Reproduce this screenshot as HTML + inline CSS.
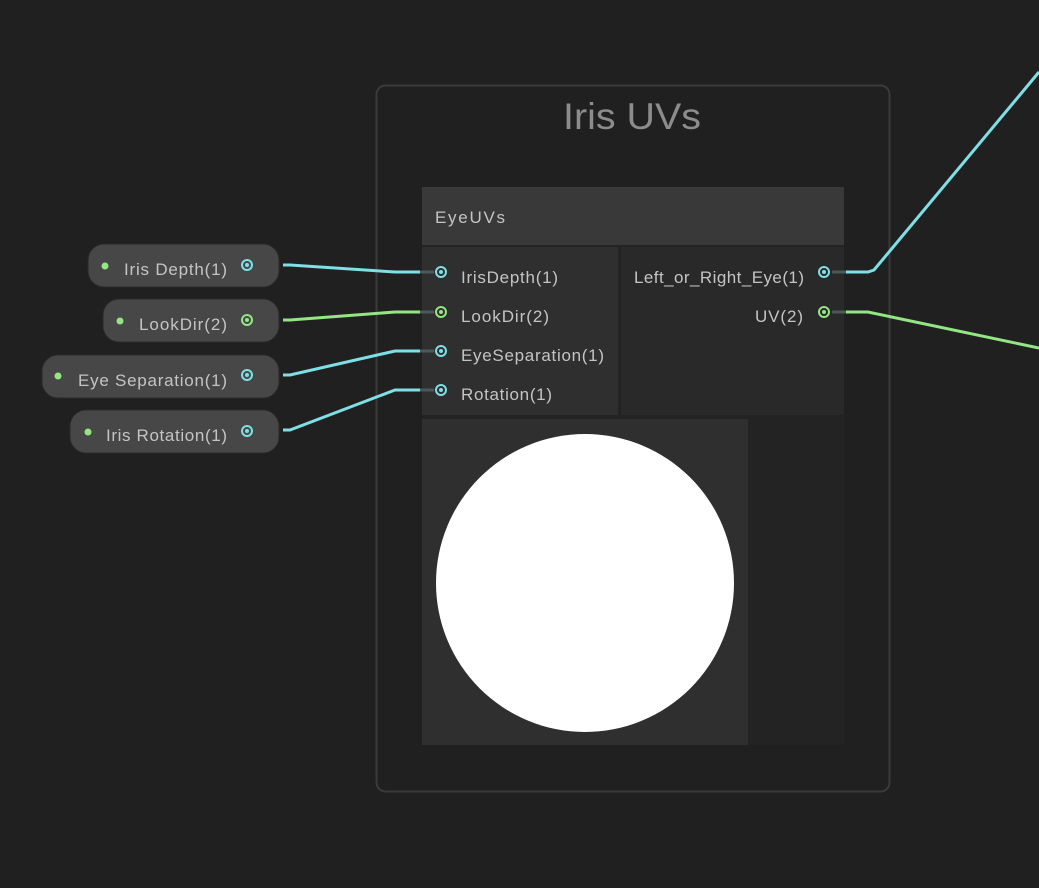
<!DOCTYPE html>
<html><head><style>
body{margin:0;background:#202020;width:1039px;height:888px;overflow:hidden;font-family:"Liberation Sans",sans-serif}
</style></head><body>
<svg width="1039" height="888" xmlns="http://www.w3.org/2000/svg" style="position:absolute;left:0;top:0">
<rect width="1039" height="888" fill="#202020"/>
<rect x="376.5" y="85.5" width="513" height="706" rx="9" fill="#202020" stroke="#3a3a3a" stroke-width="2"/>
<text x="563" y="129" font-size="37" fill="#8c8c8c" textLength="138" lengthAdjust="spacingAndGlyphs">Iris UVs</text>
<!-- node -->
<rect x="422" y="187" width="422" height="558" rx="4" fill="#232323"/>
<rect x="422" y="187" width="422" height="58" fill="#393939"/>
<text x="435" y="223" font-size="17" fill="#c4c4c4" textLength="70">EyeUVs</text>
<rect x="422" y="247" width="196" height="168" fill="#2f2f2f"/>
<rect x="621" y="247" width="223" height="168" fill="#292929"/>
<rect x="422" y="419" width="326" height="326" fill="#2f2f2f"/>
<circle cx="585" cy="583" r="149" fill="#fff"/>
<g font-size="17" fill="#c4c4c4">
<text x="461" y="283" textLength="97">IrisDepth(1)</text>
<text x="461" y="322" textLength="88">LookDir(2)</text>
<text x="461" y="361" textLength="143">EyeSeparation(1)</text>
<text x="461" y="400" textLength="91">Rotation(1)</text>
<text x="634" y="283" textLength="170">Left_or_Right_Eye(1)</text>
<text x="755" y="322" textLength="48">UV(2)</text>
</g>
<!-- wires -->
<g fill="none" stroke-width="3">
<path d="M283 265 L290 265 L395 272 L420 272" stroke="#7ee0e6"/>
<path d="M283 320 L290 320 L395 312 L420 312" stroke="#94e584"/>
<path d="M283 375 L290 375 L395 351 L420 351" stroke="#7ee0e6"/>
<path d="M283 430 L290 430 L395 390 L420 390" stroke="#7ee0e6"/>
<path d="M846 272 L868 272 L874 270 L1039 72" stroke="#7ee0e6"/>
<path d="M846 312 L868 312 L1039 348" stroke="#94e584"/>
</g>
<g stroke-width="3" fill="none">
<path d="M420 272 L434 272 M420 312 L434 312 M420 351 L434 351 M420 390 L434 390 M832 272 L846 272 M832 312 L846 312" stroke="#4a5a58"/>
</g>
<g fill="none" stroke-width="2">
<circle cx="441" cy="272" r="5" stroke="#7ee0e6"/><circle cx="441" cy="272" r="2" fill="#7ee0e6"/>
<circle cx="441" cy="312" r="5" stroke="#94e584"/><circle cx="441" cy="312" r="2" fill="#94e584"/>
<circle cx="441" cy="351" r="5" stroke="#7ee0e6"/><circle cx="441" cy="351" r="2" fill="#7ee0e6"/>
<circle cx="441" cy="390" r="5" stroke="#7ee0e6"/><circle cx="441" cy="390" r="2" fill="#7ee0e6"/>
<circle cx="824" cy="272" r="5" stroke="#7ee0e6"/><circle cx="824" cy="272" r="2" fill="#7ee0e6"/>
<circle cx="824" cy="312" r="5" stroke="#94e584"/><circle cx="824" cy="312" r="2" fill="#94e584"/>
</g>
<!-- pills -->
<g fill="#474747" stroke="#2a2a2a" stroke-width="1">
<rect x="88" y="244" width="191" height="43" rx="16"/>
<rect x="103" y="299" width="176" height="43" rx="16"/>
<rect x="42" y="355" width="237" height="43" rx="16"/>
<rect x="70" y="410" width="209" height="43" rx="16"/>
</g>
<g fill="#94e584">
<circle cx="105" cy="266" r="3.5"/><circle cx="120" cy="321" r="3.5"/><circle cx="58" cy="376" r="3.5"/><circle cx="88" cy="432" r="3.5"/>
</g>
<g font-size="17" fill="#c4c4c4">
<text x="124" y="275" textLength="103">Iris Depth(1)</text>
<text x="139" y="330" textLength="88">LookDir(2)</text>
<text x="78" y="386" textLength="149">Eye Separation(1)</text>
<text x="106" y="441" textLength="121">Iris Rotation(1)</text>
</g>
<g fill="none" stroke-width="2">
<circle cx="247" cy="265" r="5" stroke="#7ee0e6"/><circle cx="247" cy="265" r="2" fill="#7ee0e6"/>
<circle cx="247" cy="320" r="5" stroke="#94e584"/><circle cx="247" cy="320" r="2" fill="#94e584"/>
<circle cx="247" cy="375" r="5" stroke="#7ee0e6"/><circle cx="247" cy="375" r="2" fill="#7ee0e6"/>
<circle cx="247" cy="431" r="5" stroke="#7ee0e6"/><circle cx="247" cy="431" r="2" fill="#7ee0e6"/>
</g>
</svg>
</body></html>
